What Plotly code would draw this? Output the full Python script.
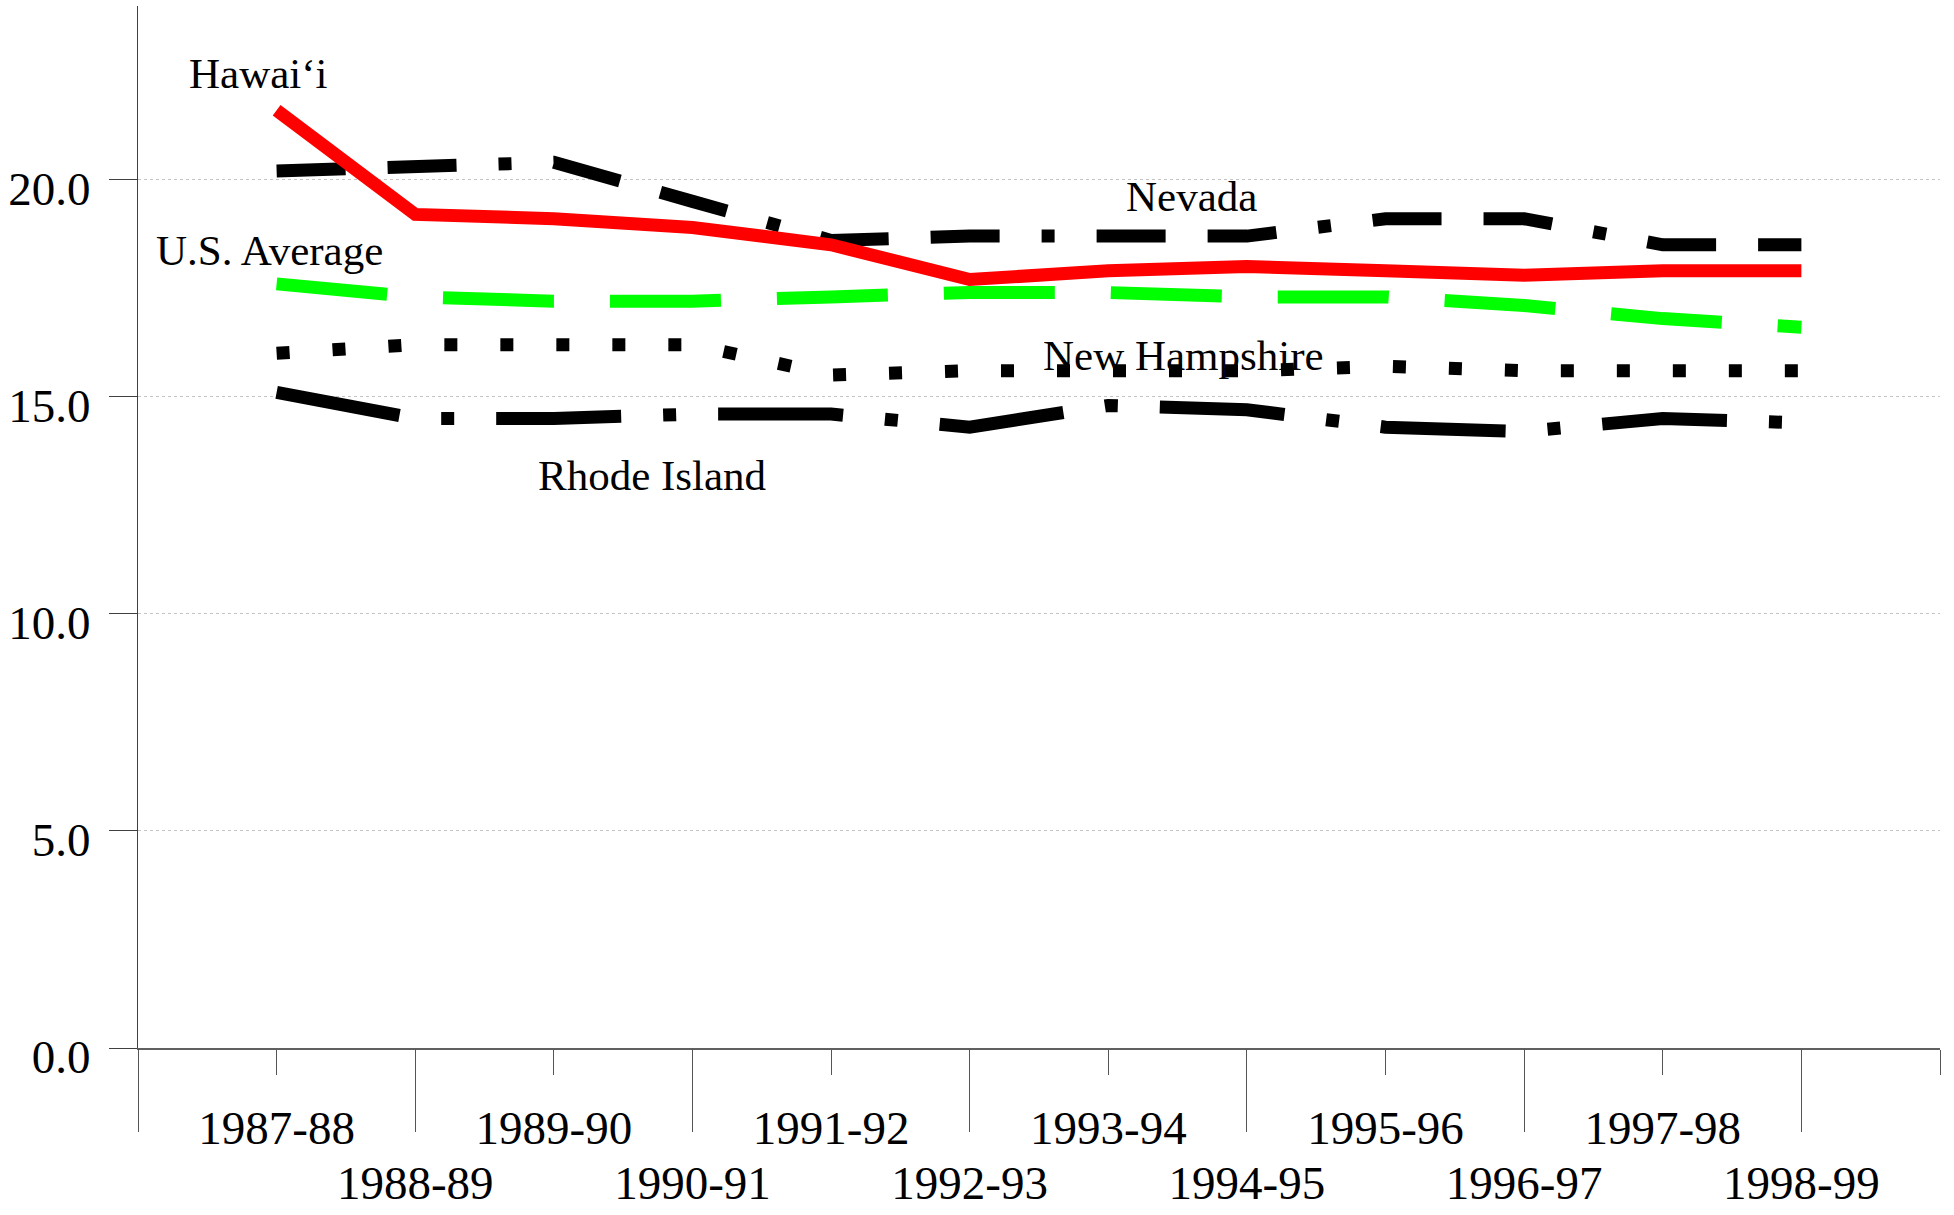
import plotly.graph_objects as go

# school years on the category axis
years = ["1987-88", "1988-89", "1989-90", "1990-91", "1991-92", "1992-93",
         "1993-94", "1994-95", "1995-96", "1996-97", "1997-98", "1998-99"]

# values
hawaii = [21.6, 19.2, 19.1, 18.9, 18.5, 17.7, 17.9, 18.0, 17.9, 17.8, 17.9, 17.9]
nevada = [20.2, 20.3, 20.4, 19.5, 18.6, 18.7, 18.7, 18.7, 19.1, 19.1, 18.5, 18.5]
us_average = [17.6, 17.3, 17.2, 17.2, 17.3, 17.4, 17.4, 17.3, 17.3, 17.1, 16.8, 16.6]
new_hampshire = [16.0, 16.2, 16.2, 16.2, 15.5, 15.6, 15.6, 15.6, 15.7, 15.6, 15.6, 15.6]
rhode_island = [15.1, 14.5, 14.5, 14.6, 14.6, 14.3, 14.8, 14.7, 14.3, 14.2, 14.5, 14.4]

y_ticks = [0, 5, 10, 15, 20]

xpos = list(range(len(years)))
n = len(years)

SERIF = "Liberation Serif, Times New Roman, serif"
LW = 13

fig = go.Figure()

fig.add_trace(go.Scatter(
    x=xpos, y=nevada, mode='lines', name='Nevada',
    line=dict(color='black', width=LW, dash='69px,42px,69px,42px,13px,42px')
))
fig.add_trace(go.Scatter(
    x=xpos, y=hawaii, mode='lines', name='Hawai‘i',
    line=dict(color='#ff0000', width=LW)
))
fig.add_trace(go.Scatter(
    x=xpos, y=us_average, mode='lines', name='U.S. Average',
    line=dict(color='#00ff00', width=LW, dash='111px,56px')
))
fig.add_trace(go.Scatter(
    x=xpos, y=new_hampshire, mode='lines', name='New Hampshire',
    line=dict(color='black', width=LW, dash='13px,43px')
))
# on the second (overlaid) x axis so that axis is drawn
fig.add_trace(go.Scatter(
    x=xpos, y=rhode_island, mode='lines', name='Rhode Island',
    line=dict(color='black', width=LW, dash='125px,42px,13px,42px'),
    xaxis='x2'
))

labels = [
    ("Hawai‘i", -0.13, 22.45),
    ("U.S. Average", -0.05, 18.36),
    ("Nevada", 6.6, 19.62),
    ("New Hampshire", 6.54, 15.96),
    ("Rhode Island", 2.71, 13.19),
]
for text, lx, ly in labels:
    fig.add_annotation(x=lx, y=ly, text=text, showarrow=False,
                       xanchor='center', yanchor='middle',
                       font=dict(family=SERIF, size=43, color='black'))

even_vals = list(range(0, n + 1, 2))
even_text = years[0::2] + [""]
odd_vals = [-1] + list(range(1, n, 2))
odd_text = [""] + years[1::2]

axis_common = dict(
    range=[-1, n], showgrid=False, zeroline=False,
    ticks='outside', tickcolor='#555555', tickwidth=1,
    tickfont=dict(family=SERIF, size=47, color='black'),
    tickmode='array',
)

fig.update_layout(
    width=1954, height=1215,
    paper_bgcolor='white', plot_bgcolor='white',
    showlegend=False,
    margin=dict(l=138, r=14, t=6, b=155),
    xaxis=dict(
        **axis_common,
        tickvals=even_vals, ticktext=even_text, ticklen=25,
        ticklabelstandoff=13,
        showline=True, linecolor='#606060', linewidth=2,
    ),
    xaxis2=dict(
        **axis_common,
        tickvals=odd_vals, ticktext=odd_text, ticklen=83,
        ticklabelstandoff=11,
        overlaying='x', anchor='y', side='bottom', showline=False,
    ),
    yaxis=dict(
        range=[0, 24], tickvals=y_ticks, tickformat='.1f',
        ticks='outside', ticklen=28, tickcolor='#404040', tickwidth=1,
        ticklabelstandoff=9, ticklabelshift=9,
        tickfont=dict(family=SERIF, size=47, color='black'),
        showline=True, linecolor='#404040', linewidth=1,
        showgrid=True, gridcolor='#c4c4c4', gridwidth=1, griddash='dot',
        zeroline=False,
    ),
)

# fill the window exactly: no body margin, and clip anything that would
# make the page taller than the figure
fig.write_html(
    "out.html",
    config={'displayModeBar': False},
    post_script=(
        "document.body.style.margin='0';"
        "document.body.style.overflow='hidden';"
        "document.documentElement.style.overflow='hidden';"
        "document.querySelectorAll('.plotly-graph-div, .svg-container')"
        ".forEach(e => e.style.overflow='hidden');"
    ),
)
